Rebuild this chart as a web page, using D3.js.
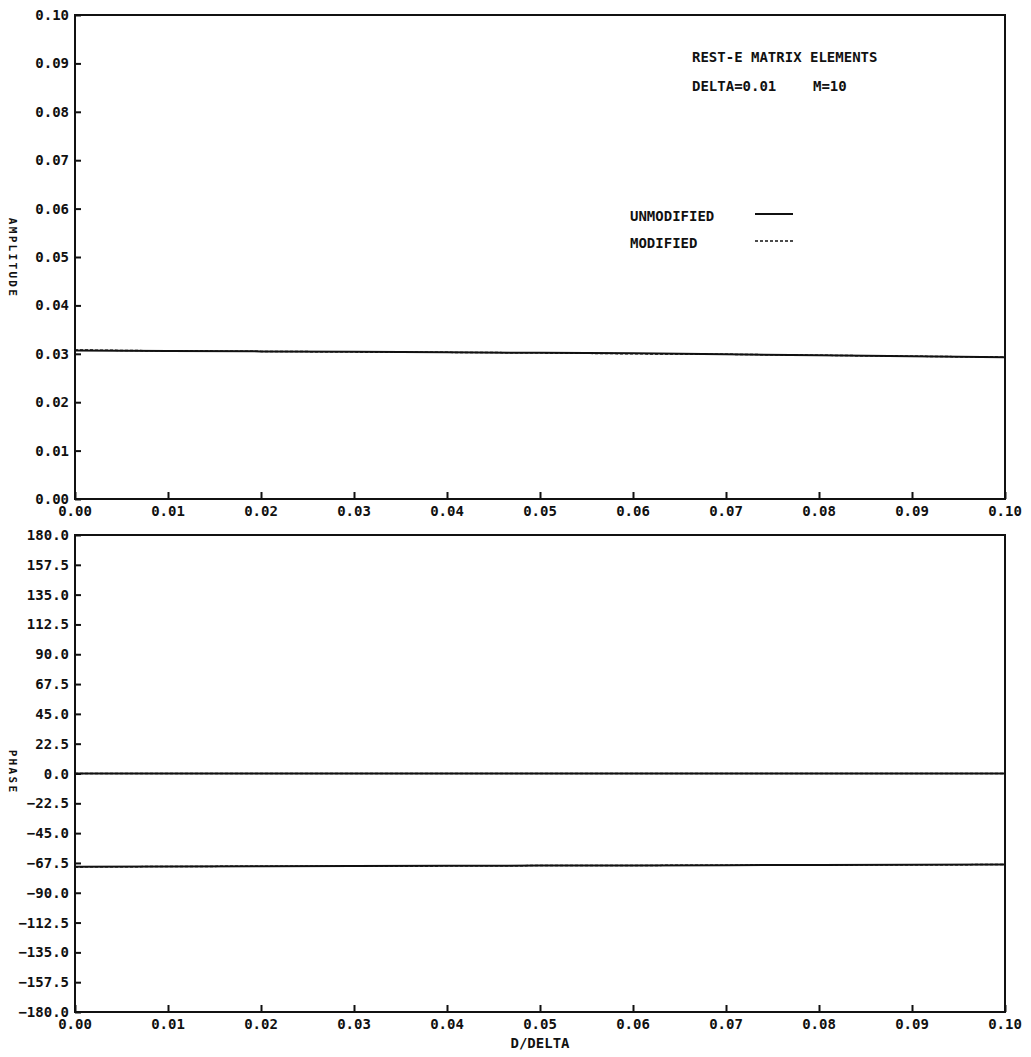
<!DOCTYPE html>
<html>
<head>
<meta charset="utf-8">
<script src="https://cdn.jsdelivr.net/npm/d3@7"></script>
<style>
  body { margin: 0; background: #fff; }
  text { font-family: "DejaVu Sans Mono", monospace; font-weight: bold; fill: #111; }
</style>
</head>
<body>
<div id="chart"></div>
<script>
// sample positions along D/DELTA
var xVals = [0.00, 0.01, 0.02, 0.03, 0.04, 0.05, 0.06, 0.07, 0.08, 0.09, 0.10];

// amplitude curves
var ampUnmod = [0.0307, 0.0306, 0.0305, 0.0304, 0.0303, 0.0302, 0.0301, 0.0299, 0.0297, 0.0295, 0.0293];
var ampMod   = [0.0308, 0.0306, 0.0305, 0.0304, 0.0303, 0.0302, 0.0300, 0.0299, 0.0297, 0.0295, 0.0293];

// phase curves (two branches)
var phaseUnmodA = [0, 0, 0, 0, 0, 0, 0, 0, 0, 0, 0];
var phaseModA   = [0, 0, 0, 0, 0, 0, 0, 0, 0, 0, 0];
var phaseUnmodB = [-70.4, -70.2, -70.0, -69.9, -69.7, -69.5, -69.4, -69.2, -69.0, -68.8, -68.7];
var phaseModB   = [-70.5, -70.2, -70.0, -69.9, -69.7, -69.5, -69.4, -69.2, -69.0, -68.9, -68.7];

var xTicks = [0, 0.01, 0.02, 0.03, 0.04, 0.05, 0.06, 0.07, 0.08, 0.09, 0.10];
var ampTicks = [0, 0.01, 0.02, 0.03, 0.04, 0.05, 0.06, 0.07, 0.08, 0.09, 0.10];
var phaseTicks = [-180, -157.5, -135, -112.5, -90, -67.5, -45, -22.5, 0, 22.5, 45, 67.5, 90, 112.5, 135, 157.5, 180];

var width = 1031, height = 1057;

var svg = d3.select("#chart").append("svg")
    .attr("width", width)
    .attr("height", height);

var x = d3.scaleLinear().domain([0, 0.1]).range([75, 1005]);
var yAmp = d3.scaleLinear().domain([0, 0.1]).range([499, 15]);
var yPh = d3.scaleLinear().domain([-180, 180]).range([1012, 535]);

// draw one panel: frame, inward ticks, labels
function panel(y, yTicks, fmt) {
    var g = svg.append("g");
    var r = y.range();
    g.append("rect")
        .attr("x", 75).attr("y", r[1])
        .attr("width", 930).attr("height", r[0] - r[1])
        .attr("fill", "none").attr("stroke", "#111").attr("stroke-width", 2);

    // y axis ticks point into the plot
    var ya = d3.axisRight(y).tickValues(yTicks).tickSize(6).tickFormat("");
    g.append("g").attr("transform", "translate(75,0)").call(ya)
        .call(function (s) { s.select(".domain").remove(); })
        .selectAll("line").attr("stroke", "#111").attr("stroke-width", 2);
    g.selectAll(".ylab").data(yTicks).enter().append("text")
        .attr("x", 69).attr("y", function (d) { return y(d) + 5; })
        .attr("text-anchor", "end").attr("font-size", 14)
        .text(fmt);

    // x axis ticks point up
    var xa = d3.axisTop(x).tickValues(xTicks).tickSize(7).tickFormat("");
    g.append("g").attr("transform", "translate(0," + r[0] + ")").call(xa)
        .call(function (s) { s.select(".domain").remove(); })
        .selectAll("line").attr("stroke", "#111").attr("stroke-width", 2);
    g.selectAll(".xlab").data(xTicks).enter().append("text")
        .attr("x", function (d) { return x(d); })
        .attr("y", r[0] + 17)
        .attr("text-anchor", "middle").attr("font-size", 14)
        .text(function (d) { return d3.format(".2f")(d); });
}

panel(yAmp, ampTicks, function (d) { return d3.format(".2f")(d); });
panel(yPh, phaseTicks, function (d) { return d3.format(".1f")(d); });

function curve(y, vals, dashed) {
    var line = d3.line()
        .x(function (d, i) { return x(xVals[i]); })
        .y(function (d) { return y(d); });
    svg.append("path")
        .datum(vals)
        .attr("d", line)
        .attr("fill", "none")
        .attr("stroke", "#111")
        .attr("stroke-width", dashed ? 1.5 : 2)
        .attr("stroke-dasharray", dashed ? "3,2" : null);
}

curve(yAmp, ampUnmod, false);
curve(yAmp, ampMod, true);
curve(yPh, phaseUnmodA, false);
curve(yPh, phaseModA, true);
curve(yPh, phaseUnmodB, false);
curve(yPh, phaseModB, true);

// annotation
svg.append("text").attr("x", 692).attr("y", 62).attr("font-size", 14).text("REST-E MATRIX ELEMENTS");
svg.append("text").attr("x", 692).attr("y", 91).attr("font-size", 14).text("DELTA=0.01");
svg.append("text").attr("x", 813).attr("y", 91).attr("font-size", 14).text("M=10");

// legend
svg.append("text").attr("x", 630).attr("y", 221).attr("font-size", 14).text("UNMODIFIED");
svg.append("text").attr("x", 630).attr("y", 248).attr("font-size", 14).text("MODIFIED");
svg.append("line").attr("x1", 755).attr("x2", 793).attr("y1", 214).attr("y2", 214)
    .attr("stroke", "#111").attr("stroke-width", 2);
svg.append("line").attr("x1", 755).attr("x2", 793).attr("y1", 241).attr("y2", 241)
    .attr("stroke", "#111").attr("stroke-width", 1.5).attr("stroke-dasharray", "3,2");

// axis titles
svg.append("text").attr("transform", "translate(9,258) rotate(90)")
    .attr("text-anchor", "middle").attr("font-size", 11).attr("letter-spacing", 2.3)
    .text("AMPLITUDE");
svg.append("text").attr("transform", "translate(9,772) rotate(90)")
    .attr("text-anchor", "middle").attr("font-size", 11).attr("letter-spacing", 2.3)
    .text("PHASE");
svg.append("text").attr("x", 540).attr("y", 1048)
    .attr("text-anchor", "middle").attr("font-size", 14)
    .text("D/DELTA");
</script>
</body>
</html>
